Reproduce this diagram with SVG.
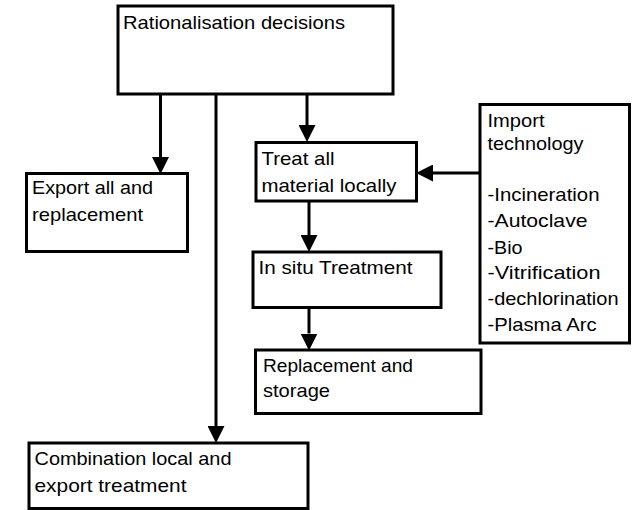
<svg xmlns="http://www.w3.org/2000/svg" width="632" height="510" viewBox="0 0 632 510">
<style>
.box{fill:#fff;stroke:#000;stroke-width:3}
.t{font-family:"Liberation Sans",Arial,sans-serif;font-size:18.5px;fill:#000}
.c{stroke:#000;stroke-width:3;fill:none;marker-end:url(#ah)}
</style>
<defs>
<marker id="ah" markerUnits="userSpaceOnUse" markerWidth="17" markerHeight="17" refX="0" refY="8" orient="auto" viewBox="0 0 16 16">
<path d="M0,0 L16,8 L0,16 Z" fill="#000"/>
</marker>
</defs>
<rect width="632" height="510" fill="#fff"/>
<g id="connectors">
<line class="c" x1="160.5" y1="94" x2="160.5" y2="157"/>
<line class="c" x1="216" y1="94" x2="216" y2="426"/>
<line class="c" x1="307" y1="94" x2="307" y2="125"/>
<line class="c" x1="309" y1="201" x2="309" y2="235"/>
<line class="c" x1="309" y1="307.5" x2="309" y2="333.5"/>
<line class="c" x1="480" y1="173" x2="433" y2="173"/>
</g>
<g id="rationalisation">
<rect class="box" x="118" y="6" width="275" height="88"/>
<text class="t" x="123" y="29" textLength="222" lengthAdjust="spacingAndGlyphs">Rationalisation decisions</text>
</g>
<g id="export">
<rect class="box" x="26.5" y="173.5" width="161" height="78"/>
<text class="t" x="32" y="194" textLength="121" lengthAdjust="spacingAndGlyphs">Export all and</text>
<text class="t" x="32" y="220.5" textLength="111" lengthAdjust="spacingAndGlyphs">replacement</text>
</g>
<g id="treat">
<rect class="box" x="256" y="142.5" width="160.5" height="58.5"/>
<text class="t" x="261.5" y="165" textLength="73" lengthAdjust="spacingAndGlyphs">Treat all</text>
<text class="t" x="261.5" y="192" textLength="135" lengthAdjust="spacingAndGlyphs">material locally</text>
</g>
<g id="import">
<rect class="box" x="480" y="104.5" width="149.5" height="238.5"/>
<text class="t" x="487.5" y="127" textLength="57" lengthAdjust="spacingAndGlyphs">Import</text>
<text class="t" x="487.5" y="150" textLength="96" lengthAdjust="spacingAndGlyphs">technology</text>
<text class="t" x="487.5" y="201" textLength="112" lengthAdjust="spacingAndGlyphs">-Incineration</text>
<text class="t" x="487.5" y="227" textLength="100" lengthAdjust="spacingAndGlyphs">-Autoclave</text>
<text class="t" x="487.5" y="254" textLength="35" lengthAdjust="spacingAndGlyphs">-Bio</text>
<text class="t" x="487.5" y="279" textLength="113" lengthAdjust="spacingAndGlyphs">-Vitrification</text>
<text class="t" x="487.5" y="305" textLength="131" lengthAdjust="spacingAndGlyphs">-dechlorination</text>
<text class="t" x="487.5" y="331" textLength="109" lengthAdjust="spacingAndGlyphs">-Plasma Arc</text>
</g>
<g id="insitu">
<rect class="box" x="253" y="252" width="188" height="55.5"/>
<text class="t" x="258.5" y="273.5" textLength="154" lengthAdjust="spacingAndGlyphs">In situ Treatment</text>
</g>
<g id="replacement">
<rect class="box" x="255.5" y="350" width="225.5" height="63.5"/>
<text class="t" x="263" y="372" textLength="150" lengthAdjust="spacingAndGlyphs">Replacement and</text>
<text class="t" x="263" y="397" textLength="67" lengthAdjust="spacingAndGlyphs">storage</text>
</g>
<g id="combination">
<rect class="box" x="29" y="443" width="279" height="65.5"/>
<text class="t" x="34.5" y="465" textLength="197" lengthAdjust="spacingAndGlyphs">Combination local and</text>
<text class="t" x="34.5" y="491.5" textLength="152" lengthAdjust="spacingAndGlyphs">export treatment</text>
</g>
</svg>
